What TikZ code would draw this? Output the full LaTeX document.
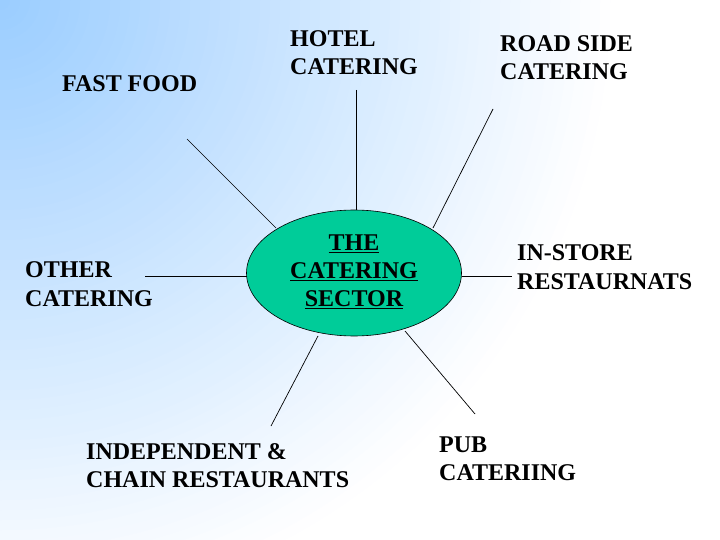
\documentclass[tikz,border=0pt]{standalone}
\usepackage{fontspec}
\setmainfont{Liberation Serif}
\usetikzlibrary{shapes.geometric}
\definecolor{bgblue}{RGB}{153,204,255}
\definecolor{ellgreen}{RGB}{0,204,153}
\begin{document}
\begin{tikzpicture}[x=1bp,y=-1bp,
  lbl/.style={anchor=base west, align=left, inner sep=0pt, font=\fontsize{24bp}{28bp}\selectfont\bfseries},
  spoke/.style={draw=black, line width=0.7bp}]
\useasboundingbox (0,0) rectangle (720,540);
% background: radial fade from the top-left corner
\begin{scope}
  \clip (0,0) rectangle (720,540);
  \fill[white] (0,0) rectangle (720,540);
  \foreach \r in {620,610,...,10} {
    \pgfmathtruncatemacro\pc{100-\r/6.2}
    \fill[bgblue!\pc!white] (0,0) circle (\r);
  }
\end{scope}
% centre
\node[ellipse, draw=black, line width=0.6bp, fill=ellgreen, minimum width=215bp, minimum height=126bp, inner sep=0pt,
      font=\fontsize{24bp}{28bp}\selectfont\bfseries] (c) at (354,273)
  {\raisebox{2bp}{\begin{tabular}{@{}c@{}}\underline{THE}\\\underline{CATERING}\\\underline{SECTOR}\end{tabular}}};
% labels (anchor at baseline of last line)
\node[lbl] (ff) at (62,92) {FAST FOOD};
\node[lbl] (hc) at (290,75) {HOTEL\\CATERING};
\node[lbl] (rs) at (500,80) {ROAD SIDE\\CATERING};
\node[lbl] (oc) at (25,306) {OTHER\\CATERING};
\node[lbl] (is) at (517,289) {IN-STORE\\RESTAURNATS};
\node[lbl] (ic) at (86,487) {INDEPENDENT \&\\CHAIN RESTAURANTS};
\node[lbl] (pc) at (439,480) {PUB\\CATERIING};
% spoke ends
\coordinate (ffa) at (187,139); \coordinate (ffb) at (276,228);
\coordinate (hca) at (356,90);  \coordinate (hcb) at (356,210);
\coordinate (rsa) at (493,109); \coordinate (rsb) at (433,228);
\coordinate (oca) at (145,276); \coordinate (ocb) at (247,276);
\coordinate (isa) at (462,276); \coordinate (isb) at (512,276);
\coordinate (ica) at (318,336); \coordinate (icb) at (271,426);
\coordinate (pca) at (405,331); \coordinate (pcb) at (475,414);
\draw[spoke] (ffa) -- (ffb);
\draw[spoke] (hca) -- (hcb);
\draw[spoke] (rsa) -- (rsb);
\draw[spoke] (oca) -- (ocb);
\draw[spoke] (isa) -- (isb);
\draw[spoke] (ica) -- (icb);
\draw[spoke] (pca) -- (pcb);
\end{tikzpicture}
\end{document}
